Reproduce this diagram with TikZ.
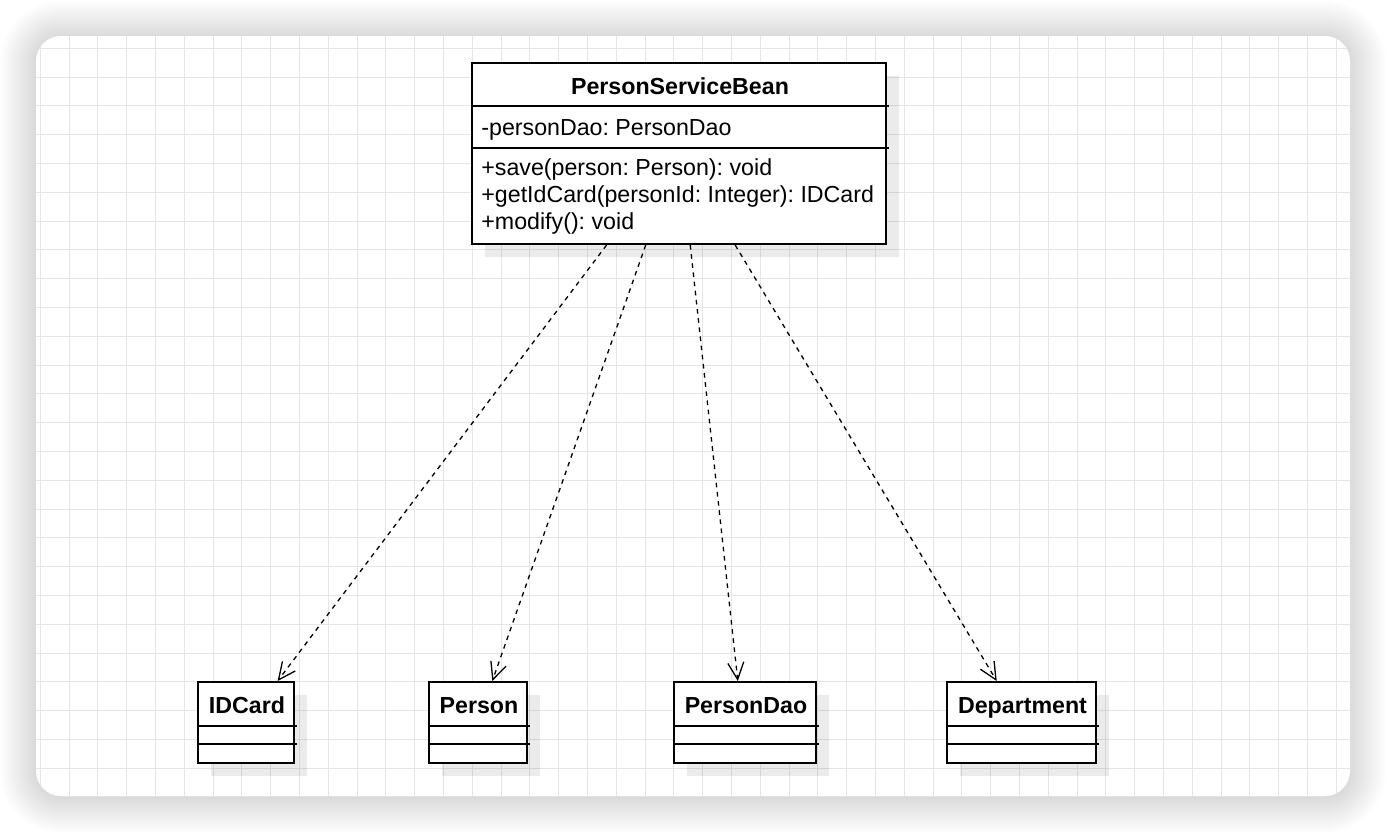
\documentclass[tikz,border=0pt]{standalone}
\usepackage{fontspec}
\setmainfont{Liberation Sans}
\usetikzlibrary{arrows.meta,calc,shadows}
\frenchspacing
\begin{document}
\begin{tikzpicture}[x=0.5pt,y=-0.5pt,
  classbox/.style={draw=black, line width=1pt, fill=white, inner sep=0pt,
    drop shadow={shadow xshift=6.5pt, shadow yshift=-6.5pt, fill=black, opacity=0.08}},
  sepline/.style={draw=black, line width=1pt},
  classtitle/.style={font=\bfseries\fontsize{11.6}{13.5}\selectfont, inner sep=0pt, anchor=base},
  member/.style={font=\fontsize{11.6}{13.5}\selectfont, inner sep=0pt, anchor=base west},
  gridline/.style={draw=black!10, line width=0.55pt},
  depends/.style={draw=black, line width=0.65pt, dash pattern=on 2.3pt off 2.3pt,
    -{Straight Barb[length=8.5pt,width=8pt]}}
]
\useasboundingbox (0,0) rectangle (1386,832);
% card shadow
\foreach \d in {1,...,18}{
  \pgfmathsetmacro\rr{12.5+\d}
  \fill[black,opacity=0.008,rounded corners=\rr pt] ({36-\d*2},{37-\d*2}) rectangle ({1350+\d*2},{797+\d*2});
}
% card
\fill[white, rounded corners=12.5pt] (36,36) rectangle (1350,796);
\begin{scope}
  \clip[rounded corners=12.5pt] (36,36) rectangle (1350,796);
  \foreach \i in {0,...,45} \draw[gridline] ({40.3+28.8*\i},36) -- ({40.3+28.8*\i},796);
  \foreach \j in {0,...,25} \draw[gridline] (36,{48.3+28.8*\j}) -- (1350,{48.3+28.8*\j});
\end{scope}

% PersonServiceBean
\node[classbox, minimum width=207pt, minimum height=90.5pt] (psb) at (679,153.5) {};
\draw[sepline] ($(psb.north west)+(0,44)$) -- ($(psb.north east)+(2,44)$);
\draw[sepline] ($(psb.north west)+(0,86)$) -- ($(psb.north east)+(2,86)$);
\node[classtitle] (psbname) at (680,94.5) {PersonServiceBean};
\node[member] (psbattr) at (481,135) {-personDao: PersonDao};
\node[member] (psbop1) at (481,175) {+save(person: Person): void};
\node[member] (psbop2) at (481,202) {+getIdCard(personId: Integer): IDCard};
\node[member] (psbop3) at (481,229) {+modify(): void};

% small classes
\node[classbox, minimum width=48pt, minimum height=40.5pt] (idcard) at (246,722.5) {};
\draw[sepline] ($(idcard.north west)+(0,45)$) -- ($(idcard.north east)+(2,45)$);
\draw[sepline] ($(idcard.north west)+(0,63)$) -- ($(idcard.north east)+(2,63)$);
\node[classtitle] (idcardname) at (247,713.5) {IDCard};

\node[classbox, minimum width=49pt, minimum height=40.5pt] (person) at (478,722.5) {};
\draw[sepline] ($(person.north west)+(0,45)$) -- ($(person.north east)+(2,45)$);
\draw[sepline] ($(person.north west)+(0,63)$) -- ($(person.north east)+(2,63)$);
\node[classtitle] (personname) at (479,713.5) {Person};

\node[classbox, minimum width=71pt, minimum height=40.5pt] (persondao) at (745,722.5) {};
\draw[sepline] ($(persondao.north west)+(0,45)$) -- ($(persondao.north east)+(2,45)$);
\draw[sepline] ($(persondao.north west)+(0,63)$) -- ($(persondao.north east)+(2,63)$);
\node[classtitle] (persondaoname) at (746,713.5) {PersonDao};

\node[classbox, minimum width=74.5pt, minimum height=40.5pt] (department) at (1021.5,722.5) {};
\draw[sepline] ($(department.north west)+(0,45)$) -- ($(department.north east)+(2,45)$);
\draw[sepline] ($(department.north west)+(0,63)$) -- ($(department.north east)+(2,63)$);
\node[classtitle] (departmentname) at (1022.5,713.5) {Department};

% dependencies
\draw[depends] ($(psb.south west)!0.326!(psb.south east)$) -- ($(idcard.north west)!0.823!(idcard.north east)$);
\draw[depends] ($(psb.south west)!0.420!(psb.south east)$) -- ($(person.north west)!0.643!(person.north east)$);
\draw[depends] ($(psb.south west)!0.527!(psb.south east)$) -- ($(persondao.north west)!0.45!(persondao.north east)$);
\draw[depends] ($(psb.south west)!0.635!(psb.south east)$) -- ($(department.north west)!0.336!(department.north east)$);
\end{tikzpicture}
\end{document}
